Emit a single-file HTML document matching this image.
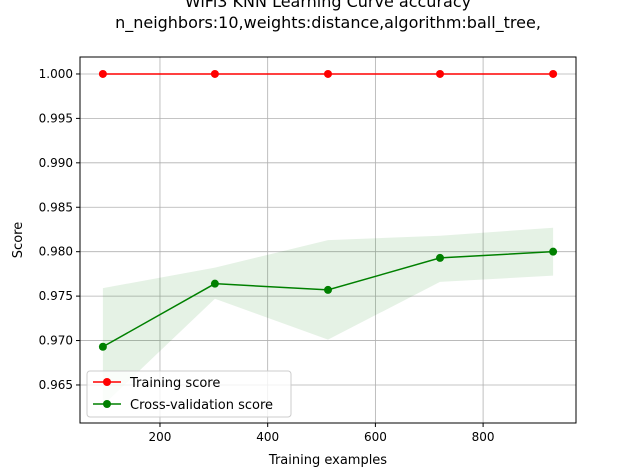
<!DOCTYPE html>
<html><head><meta charset="utf-8"><style>
html,body{margin:0;padding:0;background:#fff;}
svg{display:block;font-family:"DejaVu Sans","Liberation Sans",sans-serif;}
</style></head><body>
<svg id="chart" width="640" height="476" viewBox="0 0 640 476">
<text x="328" y="7" text-anchor="middle" font-size="16">WiFi3 KNN Learning Curve accuracy</text>
<text x="328" y="28" text-anchor="middle" font-size="16">n_neighbors:10,weights:distance,algorithm:ball_tree,</text>
<g id="grid"></g>
<g id="marks"></g>
<g id="axes"></g>
<text x="328" y="464" text-anchor="middle" font-size="13">Training examples</text>
<text transform="translate(22,240) rotate(-90)" text-anchor="middle" font-size="13">Score</text>
<g>
<rect x="87" y="371" width="204" height="46" rx="3" fill="#fff" fill-opacity="0.8" stroke="#ccc"/>
<g>
<line x1="93" y1="382" x2="121" y2="382" stroke="red" stroke-width="1.5"/><circle cx="107" cy="382" r="4" fill="red"/>
<text x="130" y="387" font-size="13">Training score</text></g>
<g>
<line x1="93" y1="404" x2="121" y2="404" stroke="green" stroke-width="1.5"/><circle cx="107" cy="404" r="4" fill="green"/>
<text x="130" y="409" font-size="13">Cross-validation score</text></g>
</g>
</svg>
<script>
const trainSizes=[94,302,512,720,930];
const trainScores=[1,1,1,1,1];
const cvScores=[0.9693,0.9764,0.9757,0.9793,0.9800];
const cvUpper=[0.9759,0.9782,0.9813,0.9818,0.9827];
const cvLower=[0.9627,0.9747,0.9701,0.9766,0.9773];
const xTicks=[200,400,600,800];
const yTicks=[0.965,0.970,0.975,0.980,0.985,0.990,0.995,1.000];
const L=80,R=576,T=57,B=423;
const xMin=51.5,xMax=972.5,yMin=0.96072,yMax=1.00191;
const X=v=>L+(v-xMin)/(xMax-xMin)*(R-L);
const Y=v=>B-(v-yMin)/(yMax-yMin)*(B-T);
const NS="http://www.w3.org/2000/svg";
function mk(p,t,a){const e=document.createElementNS(NS,t);for(const k in a)e.setAttribute(k,a[k]);p.appendChild(e);return e;}
const grid=document.getElementById('grid'),marks=document.getElementById('marks'),axes=document.getElementById('axes');
mk(grid,'defs',{}).innerHTML='<clipPath id="pc"><rect x="80" y="57" width="496" height="366"/></clipPath>';
xTicks.forEach(v=>{
 const g=mk(grid,'line',{x1:X(v),x2:X(v),y1:T,y2:B,stroke:'#b0b0b0','stroke-width':0.8});
 
 
 const tk=mk(axes,'line',{x1:X(v),x2:X(v),y1:B,y2:B+4,stroke:'#000'});
 
 
 const t=mk(axes,'text',{x:X(v),y:B+18,'text-anchor':'middle','font-size':12});t.textContent=v;
 
 
});
yTicks.forEach(v=>{
 const g=mk(grid,'line',{x1:L,x2:R,y1:Y(v),y2:Y(v),stroke:'#b0b0b0','stroke-width':0.8});
 
 
 const tk=mk(axes,'line',{x1:L-4,x2:L,y1:Y(v),y2:Y(v),stroke:'#000'});
 
 
 const t=mk(axes,'text',{x:L-7,y:Y(v)+4,'text-anchor':'end','font-size':12});t.textContent=v.toFixed(3);
 
 
});
const fr=mk(axes,'rect',{x:L,y:T,width:R-L,height:B-T,fill:'none',stroke:'#000','stroke-width':1});


const cg=mk(marks,'g',{'clip-path':'url(#pc)'});
let pts=trainSizes.map((s,i)=>X(s)+','+Y(cvUpper[i]));
pts=pts.concat(trainSizes.map((s,i)=>X(s)+','+Y(cvLower[i])).reverse());
const band=mk(cg,'polygon',{points:pts.join(' '),fill:'green','fill-opacity':0.1});


const tb=mk(cg,'rect',{x:X(trainSizes[0]),y:Y(1),width:X(trainSizes[4])-X(trainSizes[0]),height:0.5,fill:'red','fill-opacity':0.1});


[[trainScores,'red','training'],[cvScores,'green','cv']].forEach(([arr,c,n])=>{
 const l=mk(cg,'polyline',{points:trainSizes.map((s,i)=>X(s)+','+Y(arr[i])).join(' '),fill:'none',stroke:c,'stroke-width':1.5});
 
 
 arr.forEach((v,i)=>{
  const p=mk(cg,'circle',{cx:X(trainSizes[i]),cy:Y(v),r:4,fill:c});
  
  
 });
});
</script>
</body></html>
